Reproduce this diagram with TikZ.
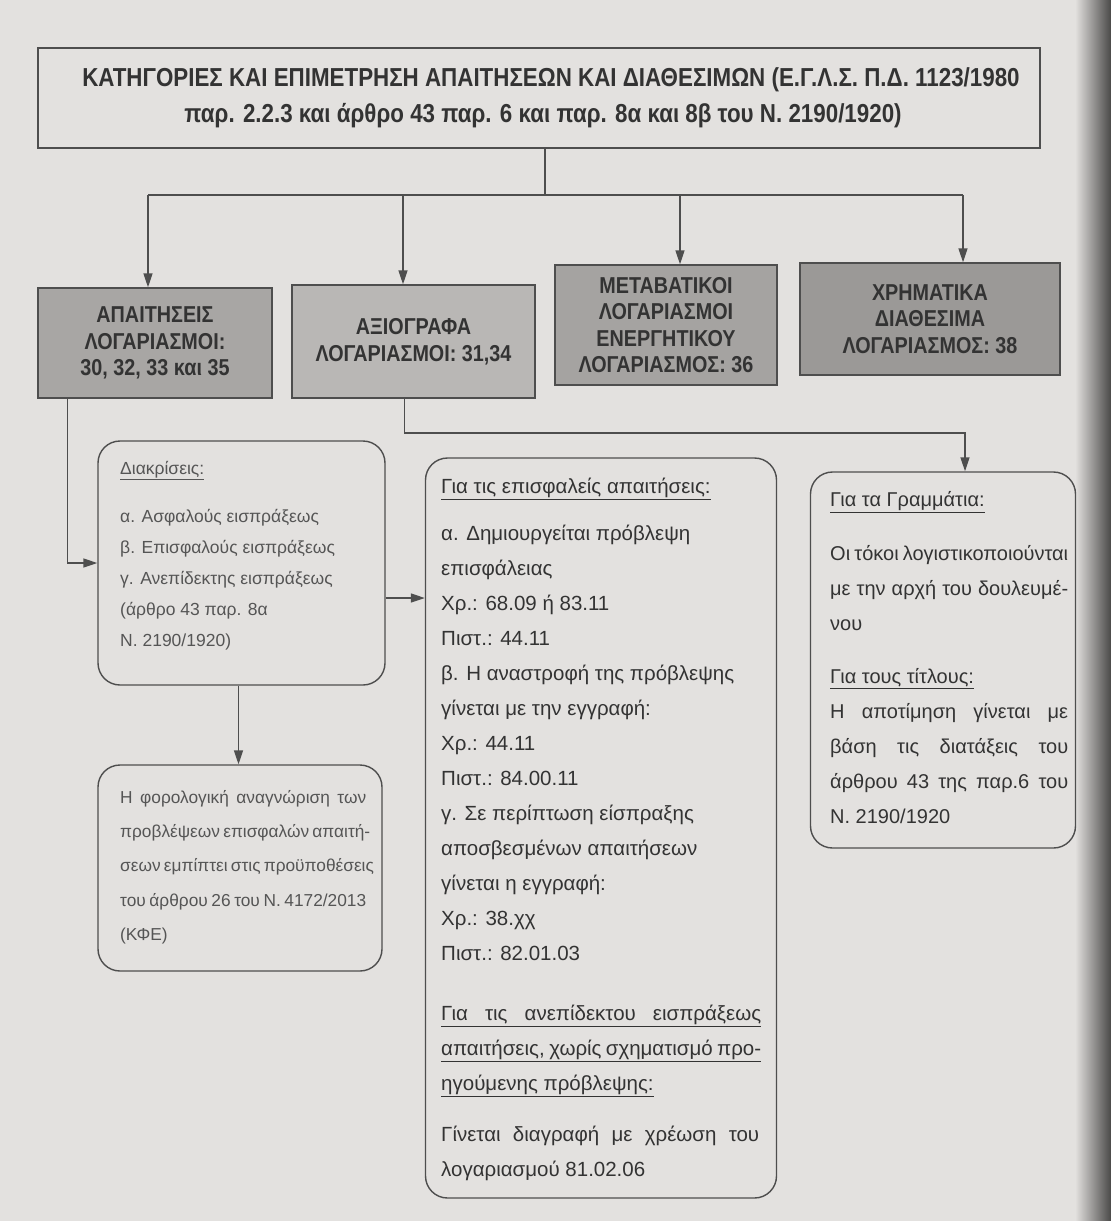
\documentclass[tikz,border=0pt]{standalone}
\usepackage{fontspec}
\setmainfont{Liberation Sans}
\newfontfamily\hdfont[FakeStretch=0.86]{Liberation Sans}
\usetikzlibrary{arrows.meta}
\definecolor{bg}{HTML}{E3E1DF}
\definecolor{shadow}{HTML}{4A4948}
\definecolor{ink}{HTML}{333333}
\definecolor{inkl}{HTML}{555555}
\definecolor{edge}{HTML}{4E4E4E}
\definecolor{gA}{HTML}{A8A6A4}
\definecolor{gB}{HTML}{B9B7B5}
\definecolor{gC}{HTML}{A5A3A1}
\definecolor{gD}{HTML}{9B9997}
\newcommand\myul[1]{\underline{#1}}
\newcommand\jl[2]{\makebox[#1][s]{#2}}
\begin{document}
\begin{tikzpicture}[x=1pt,y=-1pt,
  conn/.style={draw=edge, line width=1.4pt},
  arr/.style={conn, -{Triangle[length=14pt,width=9pt]}},
  catbox/.style={draw=edge, line width=1.4pt, align=center, text=ink,
    font=\hdfont\bfseries\fontsize{23}{26.5}\selectfont, inner sep=0pt},
  roundbox/.style={draw=edge, line width=1.4pt, rounded corners=22pt, inner sep=0pt},
  body/.style={anchor=north west, align=left, inner sep=0pt, text=ink}
]
\useasboundingbox (0,0) rectangle (1111,1221);
\fill[bg] (0,0) rectangle (1111,1221);
\shade[left color=bg, right color=shadow] (1075,0) rectangle (1111,1221);

% title
\node[draw=edge, line width=1.4pt, minimum width=1002pt, minimum height=100pt,
  align=center, text=ink, font=\hdfont\bfseries\fontsize{26}{36}\selectfont]
  (top) at (539,98)
  {\hspace*{24pt}ΚΑΤΗΓΟΡΙΕΣ ΚΑΙ ΕΠΙΜΕΤΡΗΣΗ ΑΠΑΙΤΗΣΕΩΝ ΚΑΙ ΔΙΑΘΕΣΙΜΩΝ (Ε.Γ.Λ.Σ. Π.Δ. 1123/1980\\
   \hspace*{8pt}παρ. 2.2.3 και άρθρο 43 παρ. 6 και παρ. 8α και 8β του Ν. 2190/1920)};

% category boxes
\node[catbox, fill=gA, minimum width=234pt, minimum height=110pt] (b1) at (155,343)
  {ΑΠΑΙΤΗΣΕΙΣ\\ΛΟΓΑΡΙΑΣΜΟΙ:\\30, 32, 33 και 35};
\node[catbox, fill=gB, minimum width=243pt, minimum height=113pt] (b2) at (413.5,341.5)
  {ΑΞΙΟΓΡΑΦΑ\\ΛΟΓΑΡΙΑΣΜΟΙ: 31,34};
\node[catbox, fill=gC, minimum width=222pt, minimum height=120pt] (b3) at (666,325)
  {ΜΕΤΑΒΑΤΙΚΟΙ\\ΛΟΓΑΡΙΑΣΜΟΙ\\ΕΝΕΡΓΗΤΙΚΟΥ\\ΛΟΓΑΡΙΑΣΜΟΣ: 36};
\node[catbox, fill=gD, minimum width=260pt, minimum height=112pt] (b4) at (930,319)
  {ΧΡΗΜΑΤΙΚΑ\\ΔΙΑΘΕΣΙΜΑ\\ΛΟΓΑΡΙΑΣΜΟΣ: 38};

% rounded boxes
\node[roundbox, minimum width=287pt, minimum height=244pt] (d) at (241.5,563) {};
\node[roundbox, minimum width=284pt, minimum height=206pt] (f) at (240,868) {};
\node[roundbox, minimum width=351pt, minimum height=740pt] (m) at (601,828) {};
\node[roundbox, minimum width=265pt, minimum height=376pt] (r) at (943,660) {};

% texts
\node[body, text=inkl, font=\fontsize{17.5}{31}\selectfont] (dt) at (120,461)
  {\myul{Διακρίσεις:}\\[17pt]
   α. Ασφαλούς εισπράξεως\\
   β. Επισφαλούς εισπράξεως\\
   γ. Ανεπίδεκτης εισπράξεως\\
   (άρθρο 43 παρ. 8α\\
   Ν. 2190/1920)};

\node[body, text=inkl, font=\fontsize{17.3}{34.3}\selectfont] (ft) at (120,790)
  {\jl{246pt}{Η φορολογική αναγνώριση των}\\
   \jl{246pt}{προβλέψεων επισφαλών απαιτή-}\\
   \jl{246pt}{σεων εμπίπτει στις προϋποθέσεις}\\
   \jl{246pt}{του άρθρου 26 του Ν. 4172/2013}\\
   (ΚΦΕ)};

\node[body, font=\fontsize{20.5}{35}\selectfont] (mt) at (441,478)
  {\myul{Για τις επισφαλείς απαιτήσεις:}\\[12pt]
   α. Δημιουργείται πρόβλεψη\\
   επισφάλειας\\
   Χρ.: 68.09 ή 83.11\\
   Πιστ.: 44.11\\
   β. Η αναστροφή της πρόβλεψης\\
   γίνεται με την εγγραφή:\\
   Χρ.: 44.11\\
   Πιστ.: 84.00.11\\
   γ. Σε περίπτωση είσπραξης\\
   αποσβεσμένων απαιτήσεων\\
   γίνεται η εγγραφή:\\
   Χρ.: 38.χχ\\
   Πιστ.: 82.01.03\\[25pt]
   \myul{\jl{320pt}{Για τις ανεπίδεκτου εισπράξεως}}\\
   \myul{\jl{320pt}{απαιτήσεις, χωρίς σχηματισμό προ-}}\\
   \myul{ηγούμενης πρόβλεψης:}\\[16pt]
   \jl{318pt}{Γίνεται διαγραφή με χρέωση του}\\
   λογαριασμού 81.02.06};

\node[body, font=\fontsize{20}{35}\selectfont] (rt) at (830,491)
  {\myul{Για τα Γραμμάτια:}\\[19pt]
   \jl{238pt}{Οι τόκοι λογιστικοποιούνται}\\
   \jl{238pt}{με την αρχή του δουλευμέ-}\\
   νου\\[18pt]
   \myul{Για τους τίτλους:}\\
   \jl{238pt}{Η αποτίμηση γίνεται με}\\
   \jl{238pt}{βάση τις διατάξεις του}\\
   \jl{238pt}{άρθρου 43 της παρ.6 του}\\
   Ν. 2190/1920};

% connectors
\coordinate (hub) at (545,195);
\coordinate (busL) at (148,195);
\coordinate (busR) at (963,195);
\draw[conn] ([xshift=6pt]top.south) -- (hub);
\draw[conn] (busL) -- (busR);
\draw[arr] (busL) -- (busL |- b1.north);
\draw[arr] (hub -| 403,0) -- (403,0 |- b2.north);
\draw[arr] (hub -| 680,0) -- (680,0 |- b3.north);
\draw[arr] (busR) -- (busR |- b4.north);

\coordinate (b1s) at ([xshift=30pt]b1.south west);
\draw[arr] (b1s) |- (d.west);
\coordinate (dm) at ([yshift=-35pt]d.east);
\draw[arr] (dm) -- (dm -| m.west);
\draw[arr] ([xshift=-3pt]d.south) -- ([xshift=-3pt]d.south |- f.north);
\coordinate (b2s) at ([xshift=113pt]b2.south west);
\coordinate (bend) at (965,433);
\draw[arr] (b2s) |- (bend) -- (bend |- r.north);
\end{tikzpicture}
\end{document}
